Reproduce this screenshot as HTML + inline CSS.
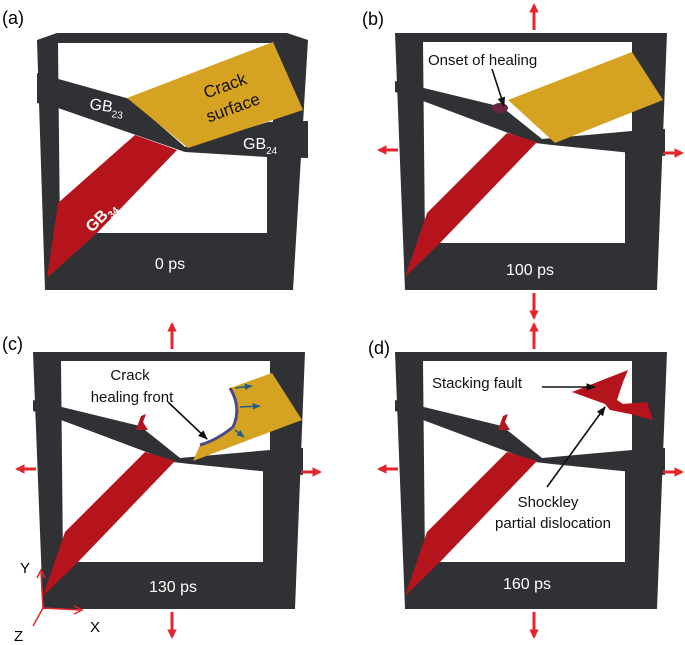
<!DOCTYPE html>
<html><head><meta charset="utf-8"><style>
html,body{margin:0;padding:0;background:#fff;}
svg{display:block;}
text{font-family:"Liberation Sans",sans-serif;}
</style></head><body>
<svg width="685" height="645" viewBox="0 0 685 645" xmlns="http://www.w3.org/2000/svg">
<defs>
<marker id="ra" viewBox="0 0 10 10" refX="8" refY="5" markerWidth="3.2" markerHeight="3.2" orient="auto"><path d="M0,0L10,5L0,10z" fill="#e3262b"/></marker>
<marker id="ka" viewBox="0 0 10 10" refX="9" refY="5" markerWidth="6" markerHeight="6" orient="auto"><path d="M0,1L10,5L0,9z" fill="#111"/></marker>
<marker id="ba" viewBox="0 0 10 10" refX="9" refY="5" markerWidth="5" markerHeight="5" orient="auto"><path d="M0,1L10,5L0,9z" fill="#1f5f8f"/></marker>
<g id="base">
<polygon points="0,0 272,0 262,257 10,257" fill="#2f3134"/>
<polygon points="28,9 237,9 237,100 230,100 230,210 30,210" fill="#fff"/>
<polygon points="0,48 107,74 147,106 237,98 270,96 270,123 237,120 157,112 140,110 28,68 0,59" fill="#2f3134"/>
</g>
<g id="loads" stroke="#e3262b" stroke-width="3" marker-end="url(#ra)">
<line x1="139" y1="-3" x2="139" y2="-28"/>
<line x1="139" y1="260" x2="139" y2="285"/>
<line x1="3" y1="117" x2="-16" y2="117"/>
<line x1="268" y1="120" x2="287" y2="120"/>
</g>
</defs>

<!-- (a) -->
<text x="2" y="24" font-size="18">(a)</text>
<g transform="translate(37,33)">
<polygon points="0,7 20,0 250,0 271,7 256,257 8,257" fill="#2f3134"/>
<polygon points="21,10 236,10 236,90 230,90 230,200 23,200" fill="#fff"/>
<polygon points="0,40 93,66 148,114 231,89 271,88 271,125 230,124 148,119 21,75 0,70" fill="#2f3134"/>
<polygon points="90,65 236,9 266,77 151,115" fill="#d6a222"/>
<polygon points="98,102 140,117 60,200 10,245 21,170" fill="#b5141c"/>
<text transform="translate(190,58) rotate(-20)" font-size="17" text-anchor="middle" fill="#111">Crack</text>
<text transform="translate(198,80) rotate(-20)" font-size="17" text-anchor="middle" fill="#111">surface</text>
<text transform="translate(52,76) rotate(8)" font-size="16" fill="#fff">GB<tspan font-size="10" dy="5">23</tspan></text>
<text x="206" y="116" font-size="16" fill="#fff">GB<tspan font-size="10" dy="5">24</tspan></text>
<text transform="translate(55,200) rotate(-45)" font-size="16" fill="#fff" font-weight="bold">GB<tspan font-size="10" dy="4">34</tspan></text>
<text x="133" y="236" font-size="16" text-anchor="middle" fill="#fff">0 ps</text>
</g>

<!-- (b) -->
<text x="362" y="25" font-size="18">(b)</text>
<g transform="translate(395,33)">
<use href="#base"/>
<polygon points="113,67 237,19 268,67 160,110" fill="#d6a222"/>
<polygon points="112,100 142,109 45,210 10,244 32,180" fill="#b5141c"/>
<ellipse cx="105" cy="75" rx="8" ry="5" fill="#6a2540"/>
<text x="33" y="32" font-size="15" fill="#111">Onset of healing</text>
<line x1="97" y1="36" x2="109" y2="73" stroke="#111" stroke-width="1.6" marker-end="url(#ka)"/>
<text x="135" y="242" font-size="16" text-anchor="middle" fill="#fff">100 ps</text>
<use href="#loads"/>
</g>

<!-- (c) -->
<text x="2" y="350" font-size="18">(c)</text>
<g transform="translate(33,352)">
<use href="#base"/>
<path d="M197,36 L239,21 L269,68 L160,109 L167,93 Q184,88 200,75 Q209,56 197,36 Z" fill="#d6a222"/>
<path d="M197,36 Q209,56 200,75 Q184,88 167,93" fill="none" stroke="#4a4a8a" stroke-width="3"/>
<polygon points="112,100 142,109 45,210 10,244 32,180" fill="#b5141c"/>
<path d="M103,78 L108,64 L113,62 L110,70 L115,78 Z" fill="#b5141c"/>
<g stroke="#1f5f8f" stroke-width="1.6" marker-end="url(#ba)">
<line x1="202" y1="36" x2="219" y2="34"/>
<line x1="207" y1="55" x2="227" y2="54"/>
<line x1="202" y1="78" x2="211" y2="85"/>
</g>
<text x="97" y="28" font-size="15" text-anchor="middle" fill="#111">Crack</text>
<text x="99" y="50" font-size="15" text-anchor="middle" fill="#111">healing front</text>
<line x1="135" y1="50" x2="174" y2="87" stroke="#111" stroke-width="1.6" marker-end="url(#ka)"/>
<text x="140" y="240" font-size="16" text-anchor="middle" fill="#fff">130 ps</text>
<use href="#loads"/>
</g>
<g stroke="#e3262b" stroke-width="1.5" fill="none">
<line x1="43" y1="608" x2="41" y2="572"/><path d="M37,578L41,570L45,578"/>
<line x1="43" y1="608" x2="80" y2="610"/><path d="M74,606L82,610L74,614"/>
<line x1="43" y1="608" x2="33" y2="626"/>
</g>
<text x="20" y="573" font-size="15">Y</text>
<text x="90" y="632" font-size="15">X</text>
<text x="14" y="641" font-size="15">Z</text>

<!-- (d) -->
<text x="368" y="354" font-size="18">(d)</text>
<g transform="translate(395,352)">
<use href="#base"/>
<polygon points="112,100 142,109 45,210 10,244 32,180" fill="#b5141c"/>
<path d="M103,78 L108,64 L113,62 L110,70 L115,78 Z" fill="#b5141c"/>
<polygon points="177,40 233,18 228,30 222,48 228,52 252,50 258,68 235,62 215,58 210,52" fill="#b5141c"/>
<text x="37" y="36" font-size="15" fill="#111">Stacking fault</text>
<line x1="147" y1="35" x2="200" y2="35" stroke="#111" stroke-width="1.6" marker-end="url(#ka)"/>
<text x="153" y="155" font-size="15" text-anchor="middle" fill="#111">Shockley</text>
<text x="158" y="176" font-size="15" text-anchor="middle" fill="#111">partial dislocation</text>
<line x1="152" y1="135" x2="210" y2="55" stroke="#111" stroke-width="1.6" marker-end="url(#ka)"/>
<text x="132" y="237" font-size="16" text-anchor="middle" fill="#fff">160 ps</text>
<use href="#loads"/>
</g>
</svg>
</body></html>
